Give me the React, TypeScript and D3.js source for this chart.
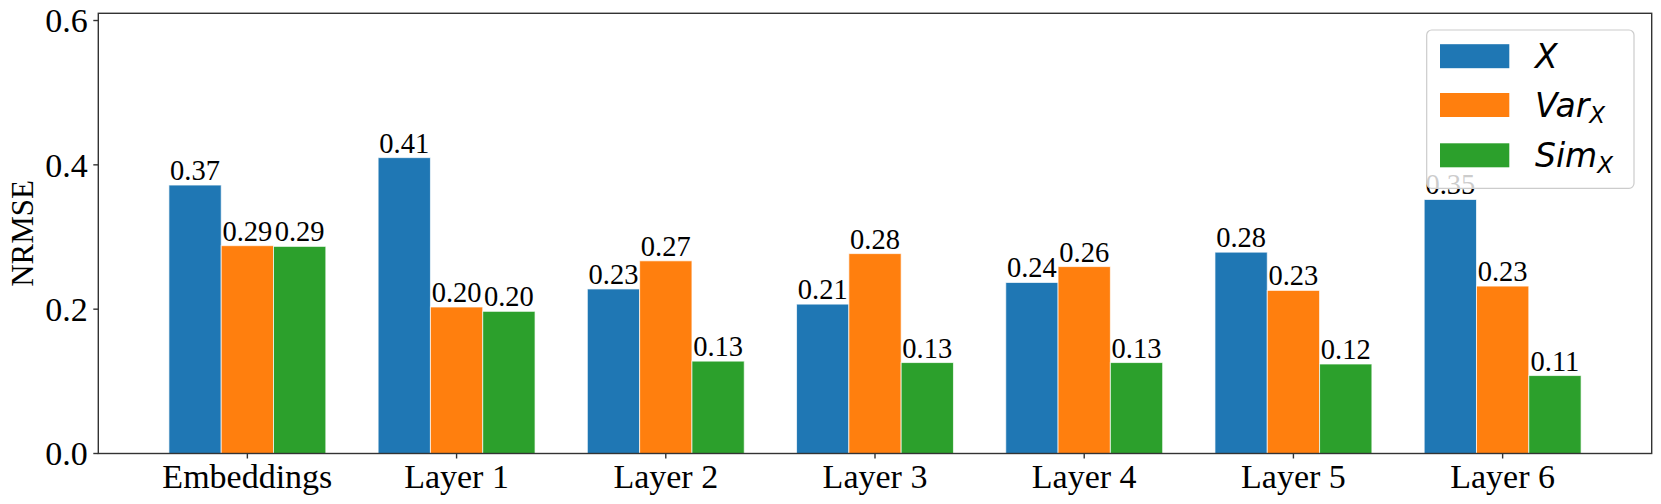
import React from "react";
import * as d3 from "d3";

const categories = ["Embeddings", "Layer 1", "Layer 2", "Layer 3", "Layer 4", "Layer 5", "Layer 6"];
const seriesX = [0.372, 0.410, 0.228, 0.207, 0.237, 0.279, 0.352];
const seriesVar = [0.288, 0.203, 0.267, 0.277, 0.259, 0.226, 0.232];
const seriesSim = [0.287, 0.197, 0.128, 0.126, 0.126, 0.124, 0.108];
const yTicks = [0.0, 0.2, 0.4, 0.6];
const seriesNames = ["X", "Var", "Sim"];
const colors = ["#1f77b4", "#ff7f0e", "#2ca02c"];

const W = 1661;
const H = 504;
const left = 98.3, right = 1651.7, top = 13.3, bottom = 453.5;
const barW = 0.25;
const serif = "'Liberation Serif', 'Times New Roman', serif";
const sans = "'DejaVu Sans', sans-serif";
const tickFs = 34;
const labelFs = 31;
const valueFs = 28.5;

export default function App() {
  const x = d3.scaleLinear().domain([-0.7125, 6.7125]).range([left, right]);
  const y = d3.scaleLinear().domain([0, 0.61]).range([bottom, top]);
  const fmt = d3.format(".2f");
  const all = [seriesX, seriesVar, seriesSim];
  const bw = x(barW) - x(0);

  const legX = 1426.7, legY = 30, legW = 207.3, legH = 158.3;
  const rowY = [56.2, 105, 155.3];

  return (
    <svg width={W} height={H} style={{ position: "absolute", left: 0, top: 0, background: "#fff" }}>
      <rect x={0} y={0} width={W} height={H} fill="#fff" />
      {all.map((vals, si) =>
        vals.map((v, i) => {
          const cx = x(i + (si - 1) * barW);
          return (
            <g key={`b${si}-${i}`}>
              <rect x={cx - bw / 2} y={y(v)} width={bw} height={y(0) - y(v)} fill={colors[si]} stroke="#ffffff" strokeOpacity={0.7} strokeWidth={1} />
              <text x={cx} y={y(v) - 5} textAnchor="middle" fontFamily={serif} fontSize={valueFs} fill="#000">
                {fmt(v)}
              </text>
            </g>
          );
        })
      )}
      {/* spines */}
      <rect x={left} y={top} width={right - left} height={bottom - top} fill="none" stroke="#333" strokeWidth={1.4} />
      {yTicks.map((t) => (
        <g key={`yt${t}`}>
          <line x1={left - 5} x2={left} y1={y(t)} y2={y(t)} stroke="#333" strokeWidth={1.4} />
          <text x={left - 10.5} y={y(t)} dy="0.35em" textAnchor="end" fontFamily={serif} fontSize={tickFs} fill="#000">
            {t.toFixed(1)}
          </text>
        </g>
      ))}
      {categories.map((c, i) => (
        <g key={`xt${i}`}>
          <line x1={x(i)} x2={x(i)} y1={bottom} y2={bottom + 5} stroke="#333" strokeWidth={1.4} />
          <text x={x(i)} y={487.5} textAnchor="middle" fontFamily={serif} fontSize={tickFs} fill="#000">
            {c}
          </text>
        </g>
      ))}
      <text transform={`translate(${33},${(top + bottom) / 2}) rotate(-90)`} textAnchor="middle" fontFamily={serif} fontSize={labelFs} fill="#000">
        NRMSE
      </text>
      {/* legend */}
      <rect x={legX} y={legY} width={legW} height={legH} rx={5} ry={5} fill="#fff" fillOpacity={0.8} stroke="#cccccc" strokeWidth={1.2} />
      {seriesNames.map((n, i) => (
        <g key={`lg${i}`}>
          <rect x={1440} y={rowY[i] - 12} width={69.3} height={24} fill={colors[i]} />
          <text x={1535} y={rowY[i]} dy="0.36em" fontFamily={sans} fontStyle="italic" fontSize={33} fill="#000">
            {n}
            {i > 0 ? (
              <tspan fontSize={23} dy="6">X</tspan>
            ) : null}
          </text>
        </g>
      ))}
    </svg>
  );
}
